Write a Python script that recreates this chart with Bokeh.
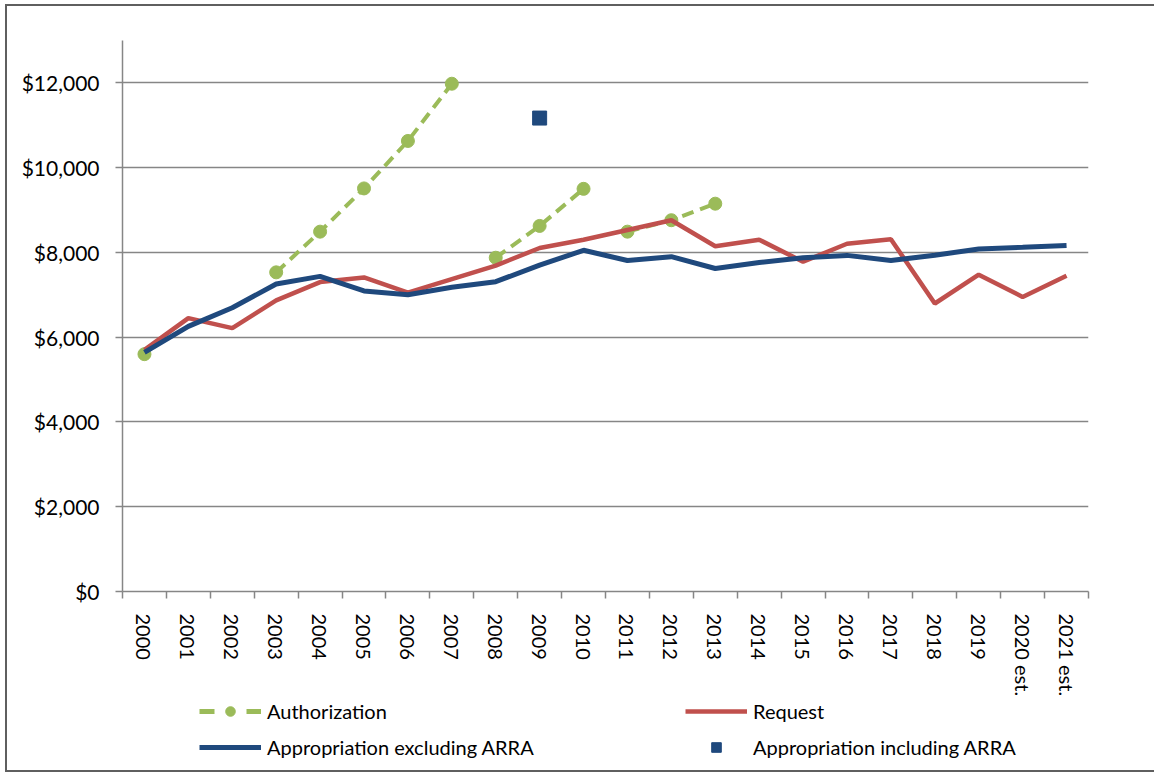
from bokeh.plotting import figure
from bokeh.layouts import column
from bokeh.models import FixedTicker, NumeralTickFormatter, Legend, LegendItem, Range1d
from bokeh.embed import file_html
from bokeh.resources import INLINE

# ---- data -------------------------------------------------------------
years = ["2000", "2001", "2002", "2003", "2004", "2005", "2006", "2007", "2008",
         "2009", "2010", "2011", "2012", "2013", "2014", "2015", "2016", "2017",
         "2018", "2019", "2020 est.", "2021 est."]

request = [5700, 6450, 6215, 6870, 7300, 7410, 7050, 7370, 7690, 8105, 8300,
           8530, 8760, 8145, 8300, 7780, 8205, 8310, 6795, 7475, 6950, 7450]

appropriation_excl_arra = [5640, 6255, 6695, 7255, 7435, 7090, 7000, 7180, 7310,
                           7700, 8050, 7810, 7900, 7620, 7760, 7875, 7930, 7810,
                           7935, 8080, 8120, 8165]

# authorization segments (separate authorizing acts)
auth_years_a = ["2000"]
auth_a = [5600]
auth_years_b = ["2003", "2004", "2005", "2006", "2007"]
auth_b = [7530, 8490, 9510, 10630, 11980]
auth_years_c = ["2008", "2009", "2010"]
auth_c = [7875, 8625, 9500]
auth_years_d = ["2011", "2012", "2013"]
auth_d = [8490, 8760, 9150]

arra_years = ["2009"]
arra_values = [11170]

y_ticks = [0, 2000, 4000, 6000, 8000, 10000, 12000]

# ---- styling ------------------------------------------------------------
GREEN = "#9BBB59"
RED = "#C0504D"
BLUE = "#1F497D"
GRID = "#868686"
FONT = "Lato"

W = 1147


def xi(labels):
    return [years.index(s) for s in labels]


x = list(range(len(years)))
all_auth_years = auth_years_a + auth_years_b + auth_years_c + auth_years_d
all_auth = auth_a + auth_b + auth_c + auth_d

p = figure(width=W, height=693, output_backend="svg", toolbar_location=None,
           x_range=Range1d(-0.5, len(years) - 0.5), y_range=Range1d(0, 13000),
           min_border_left=115, min_border_right=66, min_border_top=34,
           min_border_bottom=98)
p.outline_line_color = None
p.background_fill_color = "white"
p.border_fill_color = "white"

# axes
p.xaxis.ticker = FixedTicker(ticks=x, minor_ticks=[i - 0.5 for i in range(len(years) + 1)])
p.xaxis.major_label_overrides = {i: s for i, s in enumerate(years)}
p.xaxis.major_label_orientation = "vertical"
p.xaxis.major_tick_out = 0
p.xaxis.major_tick_in = 0
p.xaxis.minor_tick_out = 7
p.xaxis.minor_tick_in = 0
p.xaxis.minor_tick_line_color = GRID
p.xaxis.minor_tick_line_width = 1.5
p.xaxis.major_label_standoff = 15
p.xaxis.major_label_text_font_size = "20px"

p.yaxis.ticker = FixedTicker(ticks=y_ticks, minor_ticks=[])
p.yaxis.formatter = NumeralTickFormatter(format="$0,0")
p.yaxis.major_tick_out = 7
p.yaxis.major_tick_in = 0
p.yaxis.major_label_standoff = 16
p.yaxis.major_label_text_font_size = "21px"

for ax in (p.xaxis, p.yaxis):
    ax.axis_line_color = GRID
    ax.axis_line_width = 1.5
    ax.major_tick_line_color = GRID
    ax.major_tick_line_width = 1.5
    ax.major_label_text_font = FONT
    ax.major_label_text_color = "#000000"

p.xgrid.visible = False
p.ygrid.ticker = FixedTicker(ticks=y_ticks[1:])
p.ygrid.grid_line_color = GRID
p.ygrid.grid_line_width = 1.5

# ---- glyphs -------------------------------------------------------------
auth_style = dict(line_color=GREEN, line_width=4, line_dash="12 7")
auth_pt_style = dict(marker="circle", size=13, fill_color=GREEN, line_color=GREEN)
req_style = dict(line_color=RED, line_width=4.5)
app_style = dict(line_color=BLUE, line_width=5)
arra_style = dict(marker="square", size=14, fill_color=BLUE, line_color=BLUE)

for yrs, vals in ((auth_years_b, auth_b), (auth_years_c, auth_c), (auth_years_d, auth_d)):
    p.line(xi(yrs), vals, **auth_style)
p.scatter(xi(all_auth_years), all_auth, **auth_pt_style)

p.line(x, request, **req_style)
p.line(x, appropriation_excl_arra, **app_style)
p.scatter(xi(arra_years), arra_values, **arra_style)

# ---- legend strip (separate figure so nothing is clipped) ----------------
# The same series are drawn here too, but the strip's y range lies far below
# them, so only their legend glyphs are visible.
leg_fig = figure(width=W, height=71, output_backend="svg", toolbar_location=None,
                 x_axis_location=None, y_axis_location=None,
                 x_range=Range1d(-0.5, len(years) - 0.5), y_range=Range1d(-2, -1),
                 min_border_left=115, min_border_right=66, min_border_top=0,
                 min_border_bottom=0)
leg_fig.outline_line_color = None
leg_fig.xgrid.visible = False
leg_fig.ygrid.visible = False

l_auth = leg_fig.line(xi(auth_years_b), auth_b, line_color=GREEN, line_width=5,
                      line_dash="15 32")
s_auth = leg_fig.scatter(xi(all_auth_years), all_auth, **auth_pt_style)
l_req = leg_fig.line(x, request, **req_style)
l_app = leg_fig.line(x, appropriation_excl_arra, **app_style)
s_arra = leg_fig.scatter(xi(arra_years), arra_values, **arra_style)


def make_legend(items, loc):
    return Legend(items=items, location=loc, orientation="vertical",
                  border_line_color=None, background_fill_alpha=0,
                  padding=0, margin=0, spacing=12, glyph_width=62,
                  glyph_height=24, label_height=24, label_standoff=6,
                  label_text_font=FONT, label_text_font_size="20px",
                  label_text_color="#000000")


leg_fig.add_layout(make_legend([
    LegendItem(label="Authorization", renderers=[l_auth, s_auth]),
    LegendItem(label="Appropriation excluding ARRA", renderers=[l_app]),
], (77, 11)))
leg_fig.add_layout(make_legend([
    LegendItem(label="Request", renderers=[l_req]),
    LegendItem(label="Appropriation including ARRA", renderers=[s_arra]),
], (563, 11)))

layout = column(p, leg_fig, spacing=0)
layout.styles = {"border-left": "2px solid #5f5f5f", "border-top": "2px solid #5f5f5f",
                 "border-bottom": "2px solid #5f5f5f",
                 "margin-left": "5px", "margin-top": "4px"}

open("out.html", "w").write(file_html(layout, INLINE))
